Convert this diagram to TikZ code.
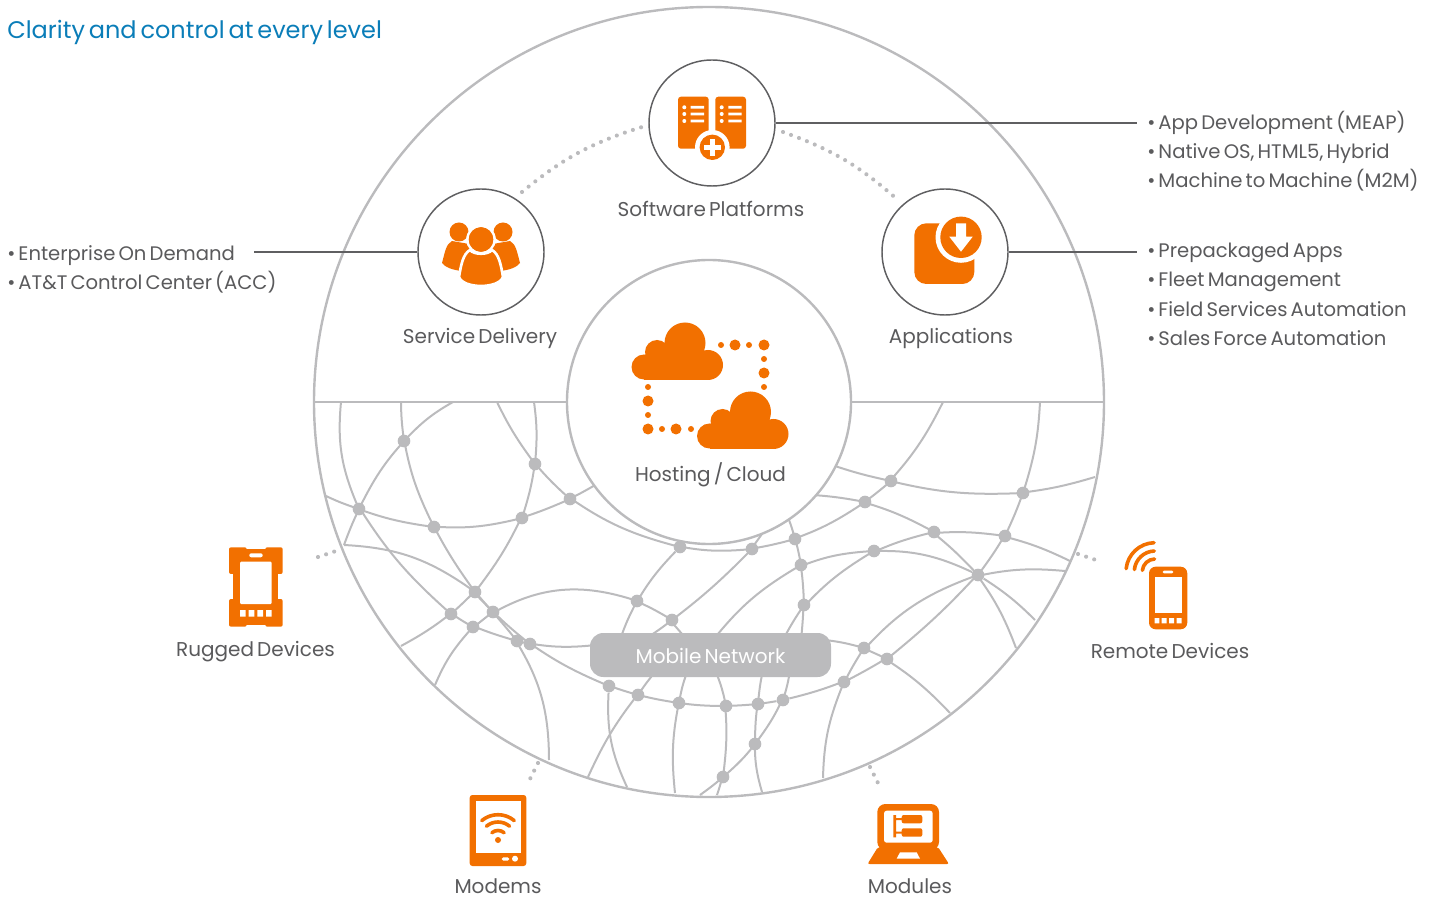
\documentclass[tikz,border=0pt]{standalone}
\usepackage{fontspec}
\setmainfont[WordSpace=0.6]{Poppins}
\usetikzlibrary{positioning}

\definecolor{atorange}{HTML}{F27000}
\definecolor{meshgray}{HTML}{BBBBBD}
\definecolor{tiergray}{HTML}{5F5F61}
\definecolor{inkgray}{HTML}{5A5A5C}
\definecolor{titleblue}{HTML}{0A7DB8}

\begin{document}
\begin{tikzpicture}[
x=0.75pt, y=-0.75pt,
rimcircle/.style={circle, draw=meshgray, line width=1.8pt, inner sep=0pt, minimum size=592.5pt},
hostcircle/.style={circle, draw=meshgray, fill=white, line width=1.8pt, inner sep=0pt, minimum size=213pt},
tiercircle/.style={circle, draw=tiergray, fill=white, line width=1.1pt, inner sep=0pt, minimum size=94.5pt},
junction/.style={circle, fill=meshgray, inner sep=0pt, minimum size=9.5pt},
mesh/.style={draw=meshgray, line width=1.5pt},
divider/.style={draw=meshgray, line width=2.2pt},
leader/.style={draw=tiergray, line width=0.9pt},
dots/.style={draw=meshgray, line width=3.1pt, line cap=round, dash pattern=on 0pt off 6.4pt},
tierlabel/.style={text=inkgray, font=\fontsize{15}{18}\selectfont, inner sep=0pt, text height=10pt, text depth=3pt},
listitem/.style={tierlabel, anchor=west, font=\fontsize{14.7}{18}\selectfont},
icon/.style={fill=atorange, draw=none},
hole/.style={fill=white, draw=none},
wave/.style={draw=atorange, line width=2.7pt, line cap=round},
]
\useasboundingbox (0,0) rectangle (1429,898);

% Outer ring
\node[rimcircle] (rim) at (709,402) {};

% Free ends of the mesh on the ring
\coordinate (ra) at (341,402);
\coordinate (rb) at (401,402);
\coordinate (rc) at (453,402);
\coordinate (rd) at (497,402);
\coordinate (re) at (534,402);
\coordinate (rf) at (943,402);
\coordinate (rg) at (1040,402);
\coordinate (rh) at (326,496);
\coordinate (ri) at (344,545);
\coordinate (rj) at (401,646);
\coordinate (rk) at (435,685);
\coordinate (rl) at (549,760);
\coordinate (rm) at (588,777);
\coordinate (rn) at (627,787);
\coordinate (ro) at (675,793);
\coordinate (rp) at (700,795);
\coordinate (rq) at (717,795);
\coordinate (rr) at (762,792);
\coordinate (rs) at (823,778);
\coordinate (rt) at (950,713);
\coordinate (ru) at (1016,648);
\coordinate (rv) at (1035,620);
\coordinate (rw) at (1065,571);
\coordinate (rx) at (1070,561);
\coordinate (ry) at (1095,477);

% Free ends under the hosting circle
\coordinate (ha) at (597,484);
\coordinate (hb) at (766,528);
\coordinate (hc) at (787,515);
\coordinate (hd) at (813,495);
\coordinate (he) at (832,465);

% Free ends under the pill
\coordinate (pa) at (620,640);
\coordinate (pb) at (643,640);
\coordinate (pc) at (687,640);
\coordinate (pd) at (713,640);
\coordinate (pe) at (783,640);
\coordinate (pf) at (801,640);
\coordinate (pg) at (825,640);
\coordinate (pl) at (596,645);
\coordinate (pm) at (657,670);
\coordinate (pn) at (688,670);
\coordinate (po) at (715,670);
\coordinate (pq) at (763,670);
\coordinate (pr) at (790,670);

% Mesh junctions, left part
\node[junction] (n1) at (404,441) {};
\node[junction] (n2) at (535,464) {};
\node[junction] (n3) at (570,499) {};
\node[junction] (n4) at (359,509) {};
\node[junction] (n5) at (434,527) {};
\node[junction] (n6) at (522,518) {};
\node[junction] (n7) at (475,592) {};
\node[junction] (n8) at (493,612) {};
\node[junction] (n9) at (451,614) {};
\node[junction] (n10) at (473,627) {};
\node[junction] (n11) at (517,641) {};
\node[junction] (n12) at (530,644) {};
\node[junction] (n13) at (680,547) {};
\node[junction] (n14) at (637,601) {};
\node[junction] (n15) at (672,620) {};
\node[junction] (n16) at (609,686) {};
\node[junction] (n17) at (638,695) {};
\node[junction] (n18) at (679,703) {};

% Mesh junctions, right part
\node[junction] (m1) at (891,481) {};
\node[junction] (m2) at (1023,493) {};
\node[junction] (m3) at (865,502) {};
\node[junction] (m4) at (934,532) {};
\node[junction] (m5) at (1005,536) {};
\node[junction] (m6) at (795,539) {};
\node[junction] (m7) at (752,549) {};
\node[junction] (m8) at (801,565) {};
\node[junction] (m9) at (874,551) {};
\node[junction] (m10) at (978,575) {};
\node[junction] (m11) at (804,605) {};
\node[junction] (m12) at (864,648) {};
\node[junction] (m13) at (887,659) {};
\node[junction] (m14) at (844,682) {};
\node[junction] (m15) at (783,700) {};
\node[junction] (m16) at (758,704) {};
\node[junction] (m17) at (726,706) {};
\node[junction] (m18) at (755,744) {};
\node[junction] (m19) at (723,777) {};

% Mesh lines
\draw[mesh] (rd) to[bend right=5] (n2) to[bend right=4] (n3) to[bend right=10] (n13) to[bend right=8] (m7) to[bend right=3] (m6) to[bend right=7] (m3) to[bend right=2] (m1) to[bend right=8] (rf);
\draw[mesh] (rh) to[bend right=3] (n4) to[bend right=6] (n5) to[bend right=9] (n6) to[bend right=3] (n3) to[bend right=2] (ha);
\draw[mesh] (ra) to[bend right=14] (n4) to[bend right=8] (n9) to[bend right=3] (n10) to[bend right=3] (n11) to[bend right=1] (n12) to[bend right=8] (pl);
\draw[mesh] (rb) to[bend right=3] (n1) to[bend right=8] (n5) to[bend right=4] (n7) to[bend right=2] (n8) to[bend right=3] (n12) to[bend right=6] (n16) to[bend right=2] (n17) to[bend right=3] (n18) to[bend right=4] (m17) to[bend right=2] (m16) to[bend right=2] (m15);
\draw[mesh] (rc) to[bend right=8] (n1) to[bend right=8] (n4) to[bend right=3] (ri);
\draw[mesh] (re) to[bend left=6] (n2) to[bend left=5] (n6) to[bend left=6] (n7) to[bend left=2] (n9) to[bend left=5] (rj);
\draw[mesh] (ri) to[bend left=16] (n7) to[bend left=3] (n11) to[bend left=16] (rl);
\draw[mesh] (rk) to[bend left=9] (n10) to[bend left=2] (n8) to[bend left=24] (n14) to[bend left=4] (n15) to[bend left=2] (pc);
\draw[mesh] (pb) to[bend right=3] (n15) to[bend right=4] (m7) to[bend right=2] (hb);
\draw[mesh] (pa) to[bend left=4] (n14) to[bend left=7] (n13);
\draw[mesh] (hc) to[bend left=3] (m6) to[bend left=3] (m8) to[bend left=3] (m11) to[bend left=2] (pf);
\draw[mesh] (pr) to[bend left=4] (m15) to[bend left=6] (m18) to[bend left=6] (m19) to[bend left=3] (rp);
\draw[mesh] (pd) to[bend left=10] (m8) to[bend left=9] (m9) to[bend left=14] (m10);
\draw[mesh] (pe) to[bend left=3] (m11) to[bend left=8] (m9) to[bend left=5] (m4) to[bend left=6] (m5) to[bend left=6] (rx);
\draw[mesh] (hd) to[bend left=3] (m3) to[bend left=6] (m4) to[bend left=4] (m10) to[bend left=8] (ru);
\draw[mesh] (m10) to[bend left=6] (rv);
\draw[mesh] (he) to[bend right=3] (m1) to[bend right=8] (m2) to[bend right=5] (ry);
\draw[mesh] (rg) to[bend left=7] (m2) to[bend left=3] (m5) to[bend left=3] (m10) to[bend left=4] (m13) to[bend left=2] (m14) to[bend left=4] (m15);
\draw[mesh] (rs) to[bend left=10] (m14) to[bend left=3] (m12) to[bend left=14] (m10) to[bend left=9] (rw);
\draw[mesh] (pg) to[bend left=4] (m12) to[bend left=2] (m13) to[bend left=7] (rt);
\draw[mesh] (n16) to[bend right=14] (rn);
\draw[mesh] (pm) to[bend right=3] (n17) to[bend right=7] (rm);
\draw[mesh] (pn) to[bend right=5] (n18) to[bend right=9] (ro);
\draw[mesh] (po) to[bend left=5] (m17) to[bend left=6] (m19) to[bend left=3] (rq);
\draw[mesh] (pq) to[bend right=3] (m16) to[bend right=4] (m18) to[bend right=9] (rr);

% Hosting circle and divider
\node[hostcircle] (host) at (709,402) {};
\draw[divider] (rim.west) -- (host.west);
\draw[divider] (host.east) -- (rim.east);

% Mobile network pill
\node[fill=meshgray, rounded corners=10pt, inner sep=0pt, minimum width=180.75pt, minimum height=33pt, text=white, text height=12pt, text depth=0pt, font=\fontsize{15}{18}\selectfont] (pill) at (710.5,655) {Mobile Network};

% Tier circles
\node[tiercircle] (platforms) at (712,123) {};
\node[tiercircle] (service) at (481,252) {};
\node[tiercircle] (apps) at (945,252) {};

% Labels
\node[tierlabel, below=12.5pt of platforms, xshift=-0.75pt] (platformslabel) {Software Platforms};
\node[tierlabel, below=10.3pt of service, xshift=-0.75pt] (servicelabel) {Service Delivery};
\node[tierlabel, below=10.3pt of apps, xshift=4.5pt] (appslabel) {Applications};
\node[tierlabel] (hostlabel) at (710.5,477) {Hosting / Cloud};
\node[tierlabel] (ruggedlabel) at (255.5,652) {Rugged Devices};
\node[tierlabel] (remotelabel) at (1170,654) {Remote Devices};
\node[tierlabel] (modemslabel) at (498,889) {Modems};
\node[tierlabel] (moduleslabel) at (910,889) {Modules};

\node[anchor=west, inner sep=0pt, text=titleblue, font=\fontsize{18}{22}\selectfont] (title) at (7,32) {Clarity and control at every level};

% Lists
\node[listitem] (app1) at (1147,125) {• App Development (MEAP)};
\node[listitem] (app2) at (1147,154) {• Native OS, HTML5, Hybrid};
\node[listitem] (app3) at (1147,183) {• Machine to Machine (M2M)};
\node[listitem] (pre1) at (1147,253) {• Prepackaged Apps};
\node[listitem] (pre2) at (1147,282) {• Fleet Management};
\node[listitem] (pre3) at (1147,312) {• Field Services Automation};
\node[listitem] (pre4) at (1147,341) {• Sales Force Automation};
\node[listitem] (ent1) at (7,256) {• Enterprise On Demand};
\node[listitem] (ent2) at (7,285) {• AT\&T Control Center (ACC)};

% Leader lines
\coordinate (platformsend) at (1137,123);
\coordinate (appsend) at (1137,252);
\coordinate (serviceend) at (254,252);
\draw[leader] (platforms) -- (platformsend);
\draw[leader] (apps) -- (appsend);
\draw[leader] (service) -- (serviceend);

% Dotted links
\coordinate (dotsa) at (522,192);
\coordinate (dotsb) at (642,127);
\coordinate (dotsc) at (783,132);
\coordinate (dotsd) at (899,201);
\coordinate (dotse) at (318,557);
\coordinate (dotsf) at (339,550);
\coordinate (dotsg) at (1078,554);
\coordinate (dotsh) at (1099,561);
\coordinate (dotsi) at (538,763);
\coordinate (dotsj) at (528,783);
\coordinate (dotsk) at (870,767);
\coordinate (dotsl) at (880,787);
\draw[dots] (dotsa) to[bend left=11] (dotsb);
\draw[dots] (dotsc) to[bend left=11] (dotsd);
\draw[dots] (dotse) -- (dotsf);
\draw[dots] (dotsg) -- (dotsh);
\draw[dots] (dotsi) -- (dotsj);
\draw[dots] (dotsk) -- (dotsl);

% Software platforms icon
\fill[icon, rounded corners=2.2pt] (678,96.7) rectangle (708.7,148.7);
\fill[icon, rounded corners=2.2pt] (715.3,96.7) rectangle (746,148.7);
\fill[hole] (684.3,107.3) circle (2) (684.3,114) circle (2) (684.3,121) circle (2);
\fill[hole] (721.7,107.3) circle (2) (721.7,114) circle (2) (721.7,121) circle (2);
\fill[hole] (690.7,106) rectangle (704,108.7) (690.7,112.7) rectangle (704,115.3) (690.7,119.7) rectangle (704,122.3);
\fill[hole] (728.3,106) rectangle (741.7,108.7) (728.3,112.7) rectangle (741.7,115.3) (728.3,119.7) rectangle (741.7,122.3);
\fill[hole] (712.3,147.3) circle (17.3);
\fill[icon] (712.3,147.3) circle (12.7);
\fill[hole] (704,145) rectangle (720.6,149.6);
\fill[hole] (710,139) rectangle (714.6,155.6);

% Service delivery icon
\fill[icon] (459,232) circle (9.5) (503,232) circle (9.5);
\fill[icon] (452,241) .. controls (446,244) and (445,252) .. (442,263) .. controls (445,267) and (452,270) .. (462,271) -- (475,245) -- cycle;
\fill[icon] (510,241) .. controls (516,244) and (517,252) .. (520,263) .. controls (517,267) and (510,270) .. (500,271) -- (487,245) -- cycle;
\filldraw[fill=atorange, draw=white, line width=2pt] (481,239.5) circle (13.5);
\filldraw[fill=atorange, draw=white, line width=2pt] (470,250) .. controls (463,254) and (461,265) .. (459,277) .. controls (463,289) and (499,289) .. (503,277) .. controls (501,265) and (499,254) .. (492,250) .. controls (488,255) and (474,255) .. (470,250) -- cycle;
\fill[icon] (481,239.5) circle (12.3);

% Applications icon
\fill[icon, rounded corners=9pt] (914.3,223.3) rectangle (974.3,284);
\fill[hole] (961,237.3) circle (25.5);
\fill[icon] (961,237.3) circle (20.7);
\fill[hole] (956,223.3) -- (966,223.3) -- (966,236.7) -- (972.7,236.7) -- (961,251.7) -- (949.3,236.7) -- (956,236.7) -- cycle;

% Hosting icon, two clouds and their dotted ring
\fill[icon] (644,367) circle (12.5) (657,352) circle (12) (685,343) circle (20.5) (708,365) circle (15);
\fill[icon] (644,358) rectangle (708,380);
\fill[icon] (657,350) rectangle (690,360);
\fill[icon] (709.5,436) circle (12.5) (722.5,421) circle (12) (750.5,412) circle (20.5) (773.5,434) circle (15);
\fill[icon] (709.5,427) rectangle (773.5,449);
\fill[icon] (722.5,419) rectangle (755.5,429);
\fill[icon] (735,345) circle (5.5) (764,345) circle (5.5) (764,373) circle (5.5) (648,401) circle (5.5) (648,429) circle (5.5) (676,429) circle (5.5);
\fill[icon] (721,345) circle (3) (749,345) circle (3) (764,359) circle (3) (764,387) circle (3) (648,387) circle (3) (648,415) circle (3) (662,429) circle (3) (691,429) circle (3);

% Rugged devices icon
\fill[icon, rounded corners=1.5pt] (229,547.3) rectangle (246.7,574) (265.3,547.3) rectangle (282.7,574) (229,599) rectangle (246.7,626.7) (265.3,599) rectangle (282.7,626.7);
\fill[icon] (233.3,549.3) rectangle (278.3,624.7);
\fill[hole, rounded corners=0.8pt] (240,561.7) rectangle (271.7,604);
\fill[hole, rounded corners=1.5pt] (249.3,553.3) rectangle (262.7,557.3);
\fill[hole] (240,610) rectangle (245.7,616.7) (248.7,610) rectangle (254.3,616.7) (257.3,610) rectangle (263,616.7) (266,610) rectangle (271.7,616.7);

% Remote devices icon
\fill[icon, rounded corners=5pt] (1149,566.7) rectangle (1187.3,629.3);
\fill[hole] (1154.7,577.3) rectangle (1181.7,613.3);
\fill[hole, rounded corners=1pt] (1162.7,570.7) rectangle (1173.3,573.3);
\fill[hole] (1154.7,618) rectangle (1159.3,623.3) (1161.7,618) rectangle (1166.7,623.3) (1169,618) rectangle (1174,623.3) (1176.7,618) rectangle (1181.7,623.3);
\draw[wave] (1155,571.7) ++(186:29) arc[start angle=186, end angle=268, radius=29];
\draw[wave] (1155,571.7) ++(186:20.7) arc[start angle=186, end angle=268, radius=20.7];
\draw[wave] (1155,571.7) ++(186:12.7) arc[start angle=186, end angle=268, radius=12.7];

% Modems icon
\fill[icon, rounded corners=2pt] (469.7,795) rectangle (526.3,866);
\fill[hole] (475.7,801) rectangle (520.7,852.7);
\fill[hole, rounded corners=1.2pt] (501.7,857.3) rectangle (509.3,860.7);
\fill[hole] (515,858.7) circle (3);
\fill[icon] (498,840) circle (3);
\draw[wave] (498,840) ++(230:25.3) arc[start angle=230, end angle=310, radius=25.3];
\draw[wave] (498,840) ++(230:18) arc[start angle=230, end angle=310, radius=18];
\draw[wave] (498,840) ++(230:9.5) arc[start angle=230, end angle=310, radius=9.5];

% Modules icon
\fill[icon, rounded corners=6pt] (877.3,804) rectangle (939,850);
\fill[hole, rounded corners=2pt] (884,810.7) rectangle (932.7,842.7);
\fill[icon, rounded corners=1.5pt] (901.7,815) rectangle (922.3,823.3) (901.7,828.3) rectangle (922.3,836.7);
\fill[icon] (893.3,815) rectangle (896,837.3) (896,818) rectangle (902,820) (896,831.7) rectangle (902,833.7);
\fill[icon, rounded corners=1.5pt] (878,847) -- (938,847) -- (949,864) -- (867.5,864) -- cycle;
\fill[hole] (900,852.3) -- (916.7,852.3) -- (920,858.7) -- (896.7,858.7) -- cycle;

\end{tikzpicture}
\end{document}
